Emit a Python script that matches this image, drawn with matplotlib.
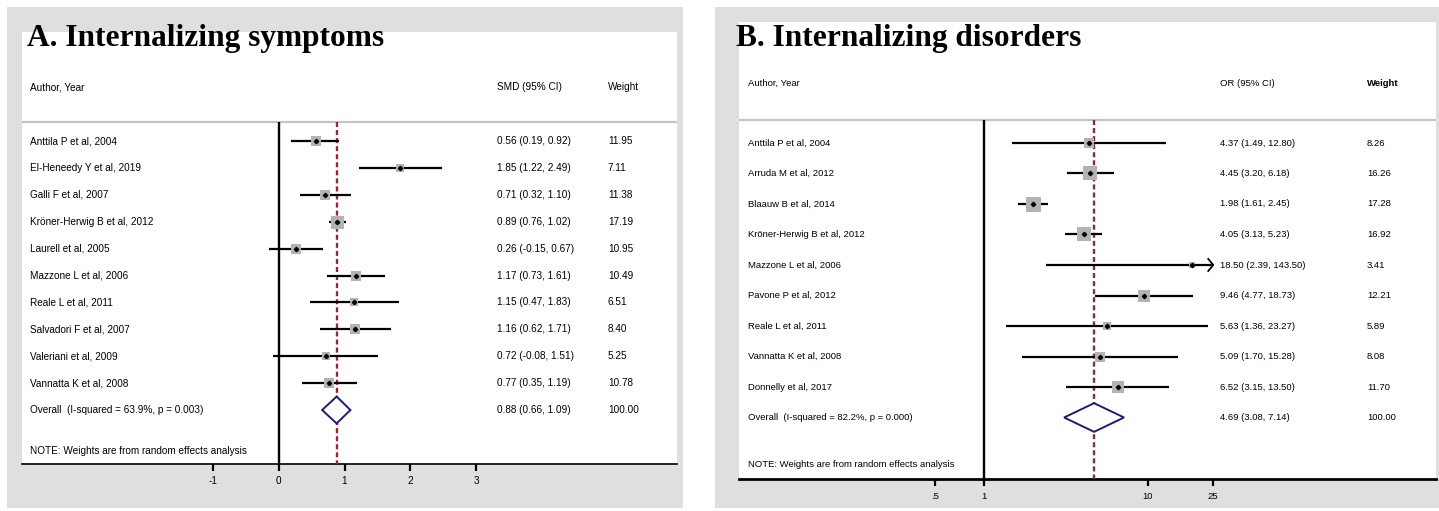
import matplotlib
matplotlib.use('Agg')
import matplotlib.pyplot as plt
from matplotlib.patches import Rectangle, Polygon
from matplotlib.transforms import blended_transform_factory
import numpy as np

plt.rcParams['lines.scale_dashes'] = False

# ---------------- Data ----------------
a_authors = ["Anttila P et al, 2004", "El-Heneedy Y et al, 2019", "Galli F et al, 2007",
             "Kröner-Herwig B et al, 2012", "Laurell et al, 2005", "Mazzone L et al, 2006",
             "Reale L et al, 2011", "Salvadori F et al, 2007", "Valeriani et al, 2009",
             "Vannatta K et al, 2008"]
a_est = [0.56, 1.85, 0.71, 0.89, 0.26, 1.17, 1.15, 1.16, 0.72, 0.77]
a_lo = [0.19, 1.22, 0.32, 0.76, -0.15, 0.73, 0.47, 0.62, -0.08, 0.35]
a_hi = [0.92, 2.49, 1.10, 1.02, 0.67, 1.61, 1.83, 1.71, 1.51, 1.19]
a_w = [11.95, 7.11, 11.38, 17.19, 10.95, 10.49, 6.51, 8.40, 5.25, 10.78]
a_overall = [0.88, 0.66, 1.09]
a_overall_label = "Overall  (I-squared = 63.9%, p = 0.003)"
a_ticks = [-1, 0, 1, 2, 3]
a_ticklabels = ["-1", "0", "1", "2", "3"]

b_authors = ["Anttila P et al, 2004", "Arruda M et al, 2012", "Blaauw B et al, 2014",
             "Kröner-Herwig B et al, 2012", "Mazzone L et al, 2006", "Pavone P et al, 2012",
             "Reale L et al, 2011", "Vannatta K et al, 2008", "Donnelly et al, 2017"]
b_est = [4.37, 4.45, 1.98, 4.05, 18.50, 9.46, 5.63, 5.09, 6.52]
b_lo = [1.49, 3.20, 1.61, 3.13, 2.39, 4.77, 1.36, 1.70, 3.15]
b_hi = [12.80, 6.18, 2.45, 5.23, 143.50, 18.73, 23.27, 15.28, 13.50]
b_w = [8.26, 16.26, 17.28, 16.92, 3.41, 12.21, 5.89, 8.08, 11.70]
b_overall = [4.69, 3.08, 7.14]
b_overall_label = "Overall  (I-squared = 82.2%, p = 0.000)"
b_ticks = [0.5, 1, 10, 25]
b_ticklabels = [".5", "1", "10", "25"]

# ---------------- Layout ----------------
W, H, DPI = 1439, 511, 100
fig = plt.figure(figsize=(W / DPI, H / DPI), dpi=DPI)
fig.patch.set_facecolor('white')

SANS = ['Liberation Sans', 'DejaVu Sans']
SERIF = ['Liberation Serif', 'DejaVu Serif']
GRAYBG = '#dfdfdf'
BOXC = '#b3b3b3'
DASHC = '#8e2a35'
NAVY = '#1c1c78'


def add_bg(x0, y0, x1, y1):
    fig.patches.append(Rectangle((x0 / W, 1 - y1 / H), (x1 - x0) / W, (y1 - y0) / H,
                                 transform=fig.transFigure, facecolor=GRAYBG,
                                 edgecolor='none', zorder=-5))


def make_ax(x0, y0, x1, y1):
    ax = fig.add_axes([x0 / W, 1 - y1 / H, (x1 - x0) / W, (y1 - y0) / H])
    ax.set_facecolor('white')
    for s in ['top', 'left', 'right']:
        ax.spines[s].set_visible(False)
    ax.set_yticks([])
    return ax


def panel(ax, authors, est, lo, hi, w, overall, overall_label, ticks, ticklabels,
          null, xcols, header_est, rows, clip_hi, box_px, wmax, diamond_h,
          fs, spine_lw, log=False):
    n = len(authors)
    gray_row, header_row, note_row, bottom = rows
    tr = blended_transform_factory(ax.transAxes, ax.transData)
    xl, xe, xw = xcols
    # header
    ax.text(xl, header_row, "Author, Year", transform=tr, fontsize=fs, family=SANS, va='center')
    ax.text(xe, header_row, header_est, transform=tr, fontsize=fs, family=SANS, va='center')
    ax.text(xw, header_row, "Weight", transform=tr, fontsize=fs, family=SANS, va='center',
            weight='bold' if log else 'normal')
    ax.axhline(gray_row, color='#c4c4c4', lw=1.6, zorder=1)
    # null and overall lines
    ax.plot([null, null], [gray_row, bottom], color='black', lw=1.7, zorder=2, solid_capstyle='butt')
    dl, = ax.plot([overall[0], overall[0]], [gray_row, bottom], color=DASHC, lw=1.7, zorder=3)
    dl.set_dashes((3.6, 2.2))
    for i in range(n):
        h = min(hi[i], clip_hi)
        ax.plot([lo[i], h], [i, i], color='black', lw=1.6, zorder=4, solid_capstyle='butt')
        if hi[i] > clip_hi:
            # open arrowhead at clipped end
            if log:
                back = clip_hi / 10 ** (5 / 164.0)
            else:
                back = clip_hi - 5 / 65.75
            dy = 6 / 30.5
            ax.plot([back, clip_hi, back], [i - dy, i, i + dy], color='black', lw=1.3, zorder=4)
        side_pt = box_px * np.sqrt(w[i] / wmax) * 72 / DPI
        ax.scatter([est[i]], [i], marker='s', s=side_pt ** 2, color=BOXC, zorder=5, linewidths=0)
        ax.plot([est[i]], [i], marker='D', ms=2.2, color='black', zorder=6)
        ax.text(xl, i, authors[i], transform=tr, fontsize=fs, family=SANS, va='center')
        ax.text(xe, i, "%.2f (%.2f, %.2f)" % (est[i], lo[i], hi[i]), transform=tr,
                fontsize=fs, family=SANS, va='center')
        ax.text(xw, i, "%.2f" % w[i], transform=tr, fontsize=fs, family=SANS, va='center')
    # overall diamond
    r = n
    poly = Polygon([[overall[1], r], [overall[0], r - diamond_h], [overall[2], r],
                    [overall[0], r + diamond_h]], closed=True, facecolor='white',
                   edgecolor=NAVY, lw=1.4, zorder=5)
    ax.add_patch(poly)
    ax.text(xl, r, overall_label, transform=tr, fontsize=fs, family=SANS, va='center')
    ax.text(xe, r, "%.2f (%.2f, %.2f)" % tuple(overall), transform=tr, fontsize=fs,
            family=SANS, va='center')
    ax.text(xw, r, "%.2f" % 100.0, transform=tr, fontsize=fs, family=SANS, va='center')
    ax.text(xl, note_row, "NOTE: Weights are from random effects analysis", transform=tr,
            fontsize=fs, family=SANS, va='center')
    ax.spines['bottom'].set_linewidth(spine_lw)
    ax.set_xticks(ticks)
    ax.set_xticklabels(ticklabels, fontsize=fs, family=SANS)
    ax.tick_params(axis='x', direction='out', length=5, width=1.6, pad=4)
    ax.minorticks_off()


# ---- Panel A ----
add_bg(7, 7, 683, 508)
axA = make_ax(22, 32, 677, 464)
ax0px, upx = 278.75, 65.75
axA.set_xlim((22 - ax0px) / upx, (677 - ax0px) / upx)
rA0, rAs = 141.0, 26.9
axA.set_ylim((464 - rA0) / rAs, (32 - rA0) / rAs)
colsA = [(30 - 22) / 655, (497 - 22) / 655, (608 - 22) / 655]
panel(axA, a_authors, a_est, a_lo, a_hi, a_w, a_overall, a_overall_label, a_ticks,
      a_ticklabels, 0, colsA, "SMD (95% CI)",
      ((122 - rA0) / rAs, (87 - rA0) / rAs, (451 - rA0) / rAs, (464 - rA0) / rAs),
      1e9, 13.0, max(a_w), 0.5, 7.2, 1.2)
fig.text(27 / W, 1 - 46 / H, "A. Internalizing symptoms", family=SERIF, weight='bold',
         fontsize=22.6, va='baseline')

# ---- Panel B ----
add_bg(715, 7, 1439, 508)
axB = make_ax(739, 22, 1436, 479)
axB.set_xscale('log')
bx0, bdec = 984.0, 164.0
axB.set_xlim(10 ** ((739 - bx0) / bdec), 10 ** ((1436 - bx0) / bdec))
rB0, rBs = 143.0, 30.5
axB.set_ylim((479 - rB0) / rBs, (22 - rB0) / rBs)
colsB = [(748 - 739) / 697, (1220 - 739) / 697, (1367 - 739) / 697]
panel(axB, b_authors, b_est, b_lo, b_hi, b_w, b_overall, b_overall_label, b_ticks,
      b_ticklabels, 1, colsB, "OR (95% CI)",
      ((120 - rB0) / rBs, (83 - rB0) / rBs, (464 - rB0) / rBs, (479 - rB0) / rBs),
      b_ticks[-1], 15.0, max(b_w), 0.47, 6.8, 2.0, log=True)
fig.text(736 / W, 1 - 46 / H, "B. Internalizing disorders", family=SERIF, weight='bold',
         fontsize=22.6, va='baseline')

fig.savefig('out.png', dpi=DPI)
